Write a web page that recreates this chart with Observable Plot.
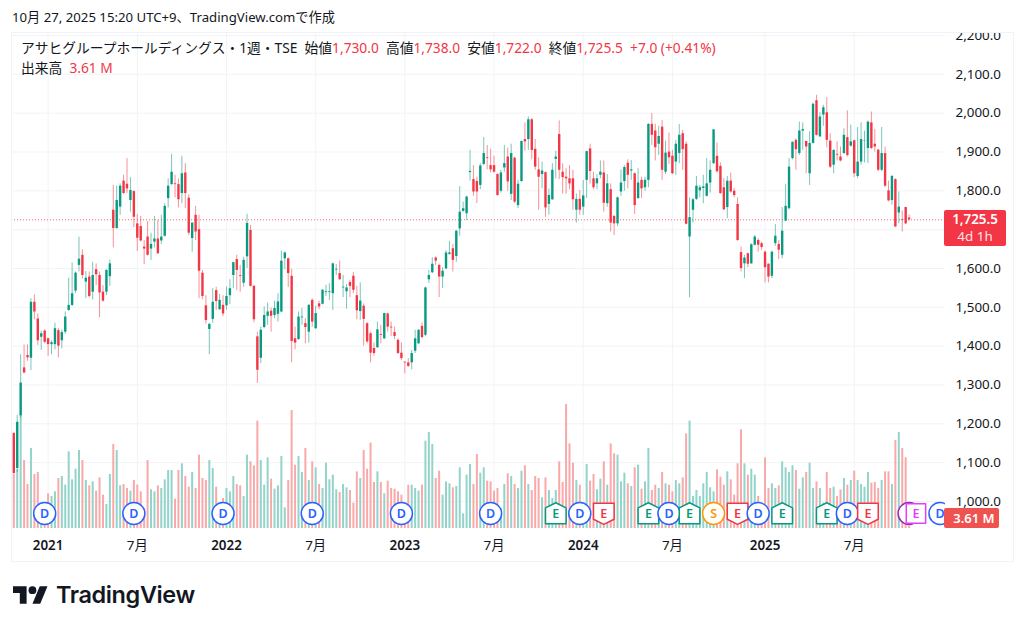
<!DOCTYPE html>
<html lang="ja">
<head>
<meta charset="utf-8">
<script src="https://cdn.jsdelivr.net/npm/d3@7"></script>
<script src="https://cdn.jsdelivr.net/npm/@observablehq/plot@0.6"></script>
<style>
  html,body{margin:0;padding:0;background:#fff;width:1024px;height:629px;overflow:hidden;
    font-family:"Noto Sans","Noto Sans CJK JP",sans-serif;color:#131722;}
  #page{position:relative;width:1024px;height:629px;}
  #stamp{position:absolute;left:12px;top:8px;font-size:13.2px;line-height:18px;white-space:nowrap;}
  #box{position:absolute;left:11px;top:32px;width:1001px;height:528px;border:1px solid #f0f3fa;pointer-events:none;}
  #chart{position:absolute;left:0;top:32px;}
  .legend{position:absolute;left:21px;font-size:13.75px;line-height:18px;white-space:pre;color:#131722;}
  .legend b{font-weight:400;color:#f23645;}
  .tag{position:absolute;color:#fff;text-align:center;border-radius:2px;font-weight:600;box-sizing:border-box;}
  #logo{position:absolute;left:13px;top:582px;display:flex;align-items:center;gap:8px;}
  #logo span{font-family:Inter,"Noto Sans",sans-serif;font-weight:600;font-size:23.5px;letter-spacing:-.4px;color:#131722;line-height:26px;}
</style>
</head>
<body>
<div id="page">
  <div id="stamp">10月 27, 2025 15:20 UTC+9、TradingView.comで作成</div>
  <div id="chart"></div>
  <div id="box"></div>
  <div class="legend" style="top:39px">アサヒグループホールディングス・1週・TSE  始値<b>1,730.0</b>  高値<b>1,738.0</b>  安値<b>1,722.0</b>  終値<b>1,725.5</b>  <b>+7.0 (+0.41%)</b></div>
  <div class="legend" style="top:59px">出来高  <b>3.61 M</b></div>
  <div id="logo">
    <svg width="35" height="18" viewBox="0 4 36 18" fill="#131722"><path d="M14 22H7V11H0V4h14v18zM28 22h-8l7.5-18h8L28 22z"/><circle cx="20" cy="8" r="4"/></svg>
    <span>TradingView</span>
  </div>
</div>
<script>
const firstWeek = new Date(Date.UTC(2020, 9, 26));
const lastPrice = 1725.5;
const gridPrices = [1000,1100,1200,1300,1400,1500,1600,1700,1800,1900,2000,2100,2200];
const priceTicks = [1000,1100,1200,1300,1400,1500,1600,1800,1900,2000,2100,2200];
const yearTicks = ["2021-01-04","2022-01-03","2023-01-02","2024-01-01","2025-01-06"];
const monthTicks = ["2021-07-05","2022-07-04","2023-07-03","2024-07-01","2025-07-07"];

const highs = [
1178,1222,1378,1403,1403,1522,1532,1483,1439,1442,
1421,1414,1459,1445,1442,1488,1575,1614,1591,1681,
1648,1592,1591,1616,1612,1591,1556,1597,1622,1814,
1812,1818,1840,1883,1834,1800,1739,1734,1672,1721,
1691,1734,1724,1737,1767,1831,1894,1840,1831,1889,
1870,1790,1717,1760,1737,1595,1530,1459,1548,1552,
1533,1530,1552,1571,1616,1634,1608,1629,1740,1711,
1557,1436,1449,1501,1511,1498,1516,1535,1645,1643,
1627,1598,1449,1488,1497,1471,1507,1522,1503,1516,
1546,1557,1561,1614,1610,1619,1582,1559,1570,1590,
1554,1563,1509,1460,1436,1408,1462,1454,1485,1485,
1462,1449,1419,1408,1359,1368,1389,1441,1442,1460,
1552,1595,1628,1630,1611,1602,1646,1670,1662,1698,
1811,1771,1786,1904,1865,1835,1870,1937,1917,1907,
1889,1844,1853,1917,1910,1920,1887,1827,1928,1975,
1990,1986,1932,1885,1874,1848,1805,1870,1902,1980,
1870,1857,1865,1853,1792,1801,1827,1902,1920,1848,
1842,1877,1877,1842,1818,1737,1784,1854,1865,1880,
1878,1846,1857,1835,1835,1973,1999,1971,1966,1981,
1928,1949,1904,1930,1971,1956,1926,1782,1780,1837,
1814,1840,1883,1877,1958,1923,1872,1831,1837,1846,
1806,1782,1655,1634,1640,1664,1685,1677,1668,1645,
1612,1645,1713,1672,1757,1817,1883,1926,1934,1977,
1975,1928,1952,2026,2046,2001,2020,2040,1947,1906,
1926,1913,1960,2006,1969,1930,1963,1975,1954,1980,
2003,1958,1906,1963,1913,1825,1840,1831,1797,1748,
1758,1738];

const bodyTops = [
1175,1204,1305,1344,1376,1513,1513,1470,1432,1439,
1419,1409,1445,1440,1435,1475,1505,1535,1588,1624,
1634,1575,1578,1582,1597,1582,1539,1595,1612,1750,
1775,1812,1825,1817,1801,1798,1715,1708,1655,1681,
1662,1676,1676,1681,1760,1812,1848,1818,1816,1844,
1846,1781,1717,1737,1700,1588,1504,1456,1513,1543,
1518,1505,1528,1548,1615,1623,1582,1621,1716,1698,
1554,1424,1441,1479,1488,1490,1497,1514,1619,1640,
1625,1580,1419,1475,1475,1458,1505,1518,1484,1509,
1544,1540,1540,1612,1598,1587,1552,1550,1564,1580,
1530,1516,1503,1458,1432,1394,1442,1430,1484,1483,
1449,1435,1415,1382,1359,1357,1381,1419,1441,1451,
1550,1582,1611,1627,1608,1593,1640,1640,1651,1696,
1745,1754,1784,1850,1829,1824,1864,1896,1886,1865,
1865,1842,1846,1870,1887,1896,1884,1817,1927,1932,
1983,1983,1907,1854,1851,1847,1788,1853,1887,1945,
1848,1835,1831,1831,1778,1778,1787,1901,1908,1831,
1831,1848,1846,1818,1803,1734,1782,1820,1860,1871,
1854,1844,1820,1827,1827,1971,1971,1954,1940,1964,
1897,1900,1889,1920,1943,1947,1920,1731,1777,1812,
1808,1810,1818,1853,1957,1889,1863,1808,1825,1825,
1799,1765,1641,1627,1638,1661,1681,1672,1664,1642,
1611,1642,1683,1662,1696,1760,1861,1925,1930,1954,
1958,1927,1922,2023,2032,1990,2014,2001,1928,1904,
1894,1887,1943,1937,1926,1929,1874,1932,1928,1977,
1975,1920,1905,1896,1896,1800,1837,1829,1758,1726,
1757,1730];

const bodyBottoms = [
1072,1085,1220,1331,1370,1369,1488,1414,1423,1410,
1404,1404,1404,1400,1414,1436,1492,1505,1542,1608,
1582,1565,1528,1539,1584,1537,1516,1539,1579,1703,
1703,1758,1793,1805,1775,1732,1678,1671,1650,1634,
1650,1668,1638,1671,1683,1780,1816,1816,1777,1793,
1793,1691,1677,1694,1593,1528,1466,1443,1469,1515,
1494,1483,1504,1530,1582,1595,1580,1562,1630,1554,
1468,1338,1369,1448,1477,1477,1479,1482,1488,1625,
1587,1412,1408,1417,1473,1448,1436,1462,1445,1501,
1508,1538,1538,1535,1596,1571,1550,1540,1554,1544,
1491,1489,1469,1411,1382,1381,1396,1428,1419,1449,
1447,1425,1381,1368,1357,1348,1357,1387,1406,1422,
1428,1571,1589,1619,1578,1578,1599,1636,1621,1631,
1702,1747,1741,1847,1797,1797,1814,1868,1884,1854,
1848,1788,1799,1859,1823,1791,1771,1762,1824,1926,
1932,1904,1861,1835,1842,1756,1765,1777,1881,1853,
1834,1831,1818,1777,1750,1750,1758,1827,1850,1808,
1818,1840,1768,1767,1717,1715,1715,1797,1824,1840,
1851,1762,1780,1805,1808,1827,1943,1911,1920,1853,
1848,1885,1844,1874,1896,1906,1714,1681,1750,1778,
1800,1806,1786,1820,1870,1849,1793,1751,1757,1797,
1788,1672,1600,1612,1611,1612,1660,1660,1654,1602,
1578,1580,1664,1647,1634,1722,1754,1883,1906,1896,
1954,1913,1844,1922,1943,1939,1995,1930,1861,1866,
1892,1877,1896,1891,1915,1844,1837,1874,1927,1909,
1909,1913,1853,1853,1812,1774,1775,1707,1743,1724,
1715,1725.5];

const lows = [
1070,1075,1215,1329,1361,1337,1468,1402,1389,1406,
1374,1378,1390,1370,1393,1430,1490,1502,1536,1591,
1573,1522,1524,1519,1556,1473,1513,1530,1554,1653,
1701,1737,1791,1793,1745,1705,1644,1668,1610,1632,
1621,1653,1636,1662,1681,1756,1814,1782,1756,1767,
1754,1685,1642,1672,1522,1520,1457,1378,1459,1492,
1492,1476,1492,1507,1548,1543,1539,1552,1600,1552,
1460,1304,1355,1445,1454,1436,1471,1462,1486,1597,
1551,1357,1391,1415,1454,1406,1408,1449,1443,1494,
1506,1528,1518,1492,1582,1570,1525,1495,1525,1535,
1468,1467,1400,1406,1357,1374,1394,1406,1417,1436,
1425,1417,1379,1363,1329,1345,1339,1381,1405,1419,
1424,1561,1587,1608,1525,1548,1597,1634,1591,1616,
1683,1745,1724,1825,1786,1767,1803,1865,1854,1846,
1846,1786,1794,1848,1799,1775,1767,1754,1822,1902,
1904,1880,1853,1750,1805,1732,1737,1775,1831,1829,
1792,1791,1803,1750,1717,1737,1737,1780,1818,1803,
1803,1831,1745,1758,1694,1685,1708,1786,1799,1805,
1827,1739,1778,1780,1799,1808,1917,1877,1891,1827,
1842,1868,1842,1840,1870,1853,1712,1525,1717,1775,
1782,1767,1784,1794,1868,1846,1791,1750,1728,1794,
1782,1670,1591,1574,1602,1611,1658,1642,1647,1563,
1563,1574,1657,1623,1625,1720,1751,1880,1853,1891,
1904,1844,1814,1920,1941,1937,1966,1911,1857,1844,
1877,1874,1894,1887,1913,1834,1831,1866,1872,1870,
1906,1900,1849,1849,1808,1772,1763,1705,1715,1694,
1713,1722];

const directions =
"duudduddud"+"duuduuuuuu"+"dududdduud"+"uudduddddd"+"uuduuuuddu"+
"ddudddduud"+"uduuudduud"+"dduuuduuuu"+"ddduududud"+"uuuuuduudd"+
"duddddudud"+"dddddduuud"+"uuudduuudu"+"uuuudduudd"+"dduududuud"+
"uddduduuud"+"dddduduudd"+"uududduuud"+"ududuuddud"+"udduudduuu"+
"uuuuudddud"+"ddduduuddd"+"duuduuuudu"+"uduuduuddu"+"ddududuuuu"+
"ddduddudud"+"dd";

const volumes = [
81,88,168,102,66,120,81,84,35,35,
52,48,55,75,78,65,115,73,89,117,
102,72,64,70,56,76,50,36,81,126,
117,64,66,60,56,72,65,55,30,102,
58,55,64,60,73,87,87,44,87,97,
78,62,84,60,110,75,72,102,90,62,
35,45,60,55,78,66,64,48,110,100,
94,161,102,65,106,74,59,64,108,31,
72,177,95,108,84,120,72,100,91,66,
60,98,73,80,58,54,66,61,57,38,
85,75,117,89,128,69,85,69,52,71,
60,59,55,50,35,65,65,60,56,65,
131,144,126,75,86,50,70,67,61,63,
91,22,80,96,66,111,83,91,71,70,
56,60,30,66,82,78,66,60,86,94,
66,57,78,75,46,76,57,45,57,100,
69,186,127,98,72,65,35,96,71,81,
58,74,100,65,127,112,110,70,83,67,
63,91,95,59,70,120,57,65,60,84,
67,65,55,72,67,76,142,161,48,57,
48,67,84,61,55,88,77,65,85,73,
50,97,148,97,80,89,80,48,35,106,
60,67,60,64,100,91,84,94,87,59,
76,84,98,60,70,60,38,84,60,62,
48,58,75,65,72,86,72,66,62,84,
68,69,60,72,85,85,66,132,144,120,
106,3.61];

const dividendWeeks = [9,35,61,87,113,139,165,191,217,243,270];
const earningsBeatWeeks = [158,185,197,224,237];
const earningsMissWeeks = [172,211,249];
const splitWeeks = [204];
const upcomingDividendWeeks = [261];
const upcomingEarningsWeeks = [263];

const week = i => d3.utcDay.offset(firstWeek, i * 7);
const candles = highs.map((h, i) => {
  const up = directions[i] === "u";
  return {date: week(i), high: h, low: lows[i],
    open: up ? bodyBottoms[i] : bodyTops[i],
    close: up ? bodyTops[i] : bodyBottoms[i],
    up, volume: volumes[i]};
});

const UP = "#089981", DOWN = "#f23645", UP_VOL = "#92d3ca", DOWN_VOL = "#f9a9a9";
const volumeBase = 930.5, priceUnitsPerVolume = 1.717;
const volumeToAxis = v => volumeBase + v * priceUnitsPerVolume;
const markerLevel = 969;

const poly = pts => ({draw(ctx, size){
  const r = Math.sqrt(size / Math.PI);
  pts.forEach(([a, b], i) => i ? ctx.lineTo(a * r, b * r) : ctx.moveTo(a * r, b * r));
  ctx.closePath();
}});
const houseUp = poly([[0,-1.05],[1,-.55],[1,1],[-1,1],[-1,-.55]]);
const houseDown = poly([[-1,-1],[1,-1],[1,.55],[0,1.05],[-1,.55]]);
const square = poly([[-1,-1],[1,-1],[1,1],[-1,1]]);

const events = [
  ...dividendWeeks.map(w => ({w, t:"D", c:"#2962ff", s:"circle", r:11})),
  ...earningsBeatWeeks.map(w => ({w, t:"E", c:UP, s:houseUp, r:10.3})),
  ...earningsMissWeeks.map(w => ({w, t:"E", c:DOWN, s:houseDown, r:10.3})),
  ...splitWeeks.map(w => ({w, t:"S", c:"#ff9800", s:"circle", r:11})),
  ...upcomingDividendWeeks.map(w => ({w, t:"", c:"#9c27b0", s:"circle", r:11})),
  ...upcomingEarningsWeeks.map(w => ({w, t:"E", c:"#e040fb", s:square, r:9.7}))
].sort((a, b) => a.w - b.w);

const eventMarks = events.flatMap(e => {
  const row = [{date: week(e.w), y: markerLevel}];
  return [
    Plot.dot(row, {x:"date", y:"y", r:e.r, symbol:e.s, fill:"#fff", stroke:e.c, strokeWidth:1.5,
      strokeLinejoin:"round", clip:"frame"}),
    ...(e.t ? [Plot.text(row, {x:"date", y:"y", text:() => e.t, fill:e.c, fontSize:12.5, fontWeight:600, clip:"frame"})] : [])
  ];
});

const chart = Plot.plot({
  width: 1024, height: 529,
  marginLeft: 11, marginRight: 79, marginTop: 0, marginBottom: 32,
  style: {fontFamily: '"Noto Sans","Noto Sans CJK JP",sans-serif', fontSize: "13.4px", color: "#131722", background: "transparent"},
  x: {type: "utc", domain: [week(0), week(261)], range: [13.3, 908.6]},
  y: {type: "linear", domain: [volumeBase, 2200], range: [496, 3]},
  marks: [
    Plot.gridX([...yearTicks, ...monthTicks].map(d => new Date(d)), {stroke:"#f2f3f6", strokeOpacity:1}),
    Plot.gridY(gridPrices, {stroke:"#f2f3f6", strokeOpacity:1}),
    Plot.ruleX(candles, {x:"date", y1:() => volumeBase, y2:d => volumeToAxis(d.volume),
      stroke:d => d.up ? UP_VOL : DOWN_VOL, strokeWidth:2}),
    Plot.ruleY([lastPrice], {stroke:DOWN, strokeOpacity:.75, strokeDasharray:"1 2", strokeWidth:1}),
    Plot.ruleX(candles, {x:"date", y1:"low", y2:"high", stroke:d => d.up ? UP : DOWN, strokeWidth:1, strokeOpacity:.55}),
    Plot.ruleX(candles, {x:"date", y1:"open", y2:"close", stroke:d => d.up ? UP : DOWN, strokeWidth:2.4}),
    ...eventMarks,
    Plot.axisY(priceTicks, {anchor:"right", tickSize:0, tickPadding:10, tickFormat:d3.format(",.1f"), label:null, fill:"#131722"}),
    Plot.axisX(yearTicks.map(d => new Date(d)), {anchor:"bottom", tickSize:0, tickPadding:11, tickFormat:d3.utcFormat("%Y"), label:null, fontWeight:600, fill:"#131722"}),
    Plot.axisX(monthTicks.map(d => new Date(d)), {anchor:"bottom", tickSize:0, tickPadding:11, tickFormat:() => "7月", label:null, fill:"#131722"})
  ]
});
document.getElementById("chart").append(chart);

const yScale = chart.scale("y");
const priceTop = 32 + yScale.apply(lastPrice) - 9;
const page = document.getElementById("page");
const priceTag = document.createElement("div");
priceTag.className = "tag";
priceTag.style.cssText = `left:944px;top:${priceTop}px;width:62px;height:36px;background:#f23645;font-size:13.4px;line-height:17px;padding-top:1px;`;
priceTag.innerHTML = `${d3.format(",.1f")(lastPrice)}<br><span style="font-weight:400;opacity:.85">4d 1h</span>`;
page.append(priceTag);
const volumeTag = document.createElement("div");
volumeTag.className = "tag";
volumeTag.style.cssText = "left:944px;top:508px;width:55px;height:20px;background:#ef5350;font-size:13px;line-height:20px;padding-left:5px;white-space:nowrap;";
volumeTag.textContent = `${volumes[volumes.length - 1]} M`;
page.append(volumeTag);
</script>
</body>
</html>
